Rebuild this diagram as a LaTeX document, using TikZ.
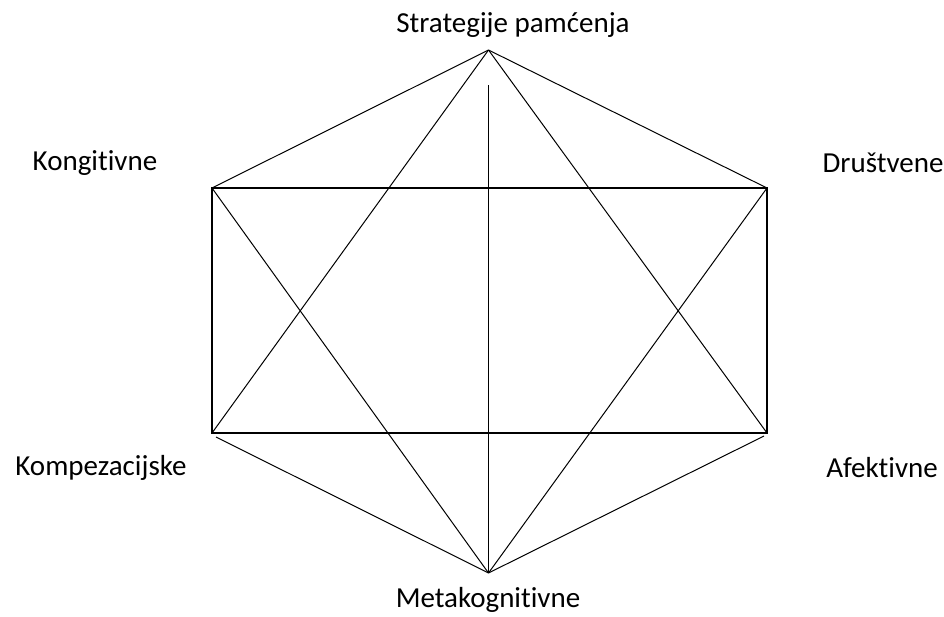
\documentclass[tikz,border=0pt]{standalone}
\usepackage{fontspec}
\setmainfont{Carlito}[Ligatures=NoCommon]
\begin{document}
\begin{tikzpicture}[x=1pt,y=-1pt,
  thinline/.style={draw=black,line width=1pt},
  boxline/.style={draw=black,line width=2.2pt,line join=miter},
  lbl/.style={font=\fontsize{29}{34}\selectfont,inner sep=0pt}]
\useasboundingbox (0,0) rectangle (944,616);
% vertices
\coordinate (T) at (488.5,50);
\coordinate (B) at (488.5,573);
\coordinate (TL) at (212,188);
\coordinate (TR) at (767,188);
\coordinate (BL) at (212,433);
\coordinate (BR) at (767,433);
\coordinate (Bl) at (216,437);
\coordinate (Br) at (764,436);
\coordinate (V) at (488.5,85);
% labels
\node[lbl] (ltop) at (513,25) {Strategije pamćenja};
\node[lbl] (ltl) at (95,163) {Kongitivne};
\node[lbl] (ltr) at (883,163) {Društvene};
\node[lbl] (lbl1) at (101,468) {Kompezacijske};
\node[lbl] (lbr) at (882,468) {Afektivne};
\node[lbl] (lbot) at (488,600) {Metakognitivne};
% rectangle
\draw[boxline] (TL) rectangle (BR);
% lines from top vertex
\draw[thinline] (T) -- (TL);
\draw[thinline] (T) -- (TR);
\draw[thinline] (T) -- (BL);
\draw[thinline] (T) -- (BR);
% lines from bottom vertex
\draw[thinline] (B) -- (TL);
\draw[thinline] (B) -- (TR);
\draw[thinline] (B) -- (Bl);
\draw[thinline] (B) -- (Br);
% vertical
\draw[thinline] (V) -- (B);
\end{tikzpicture}
\end{document}
